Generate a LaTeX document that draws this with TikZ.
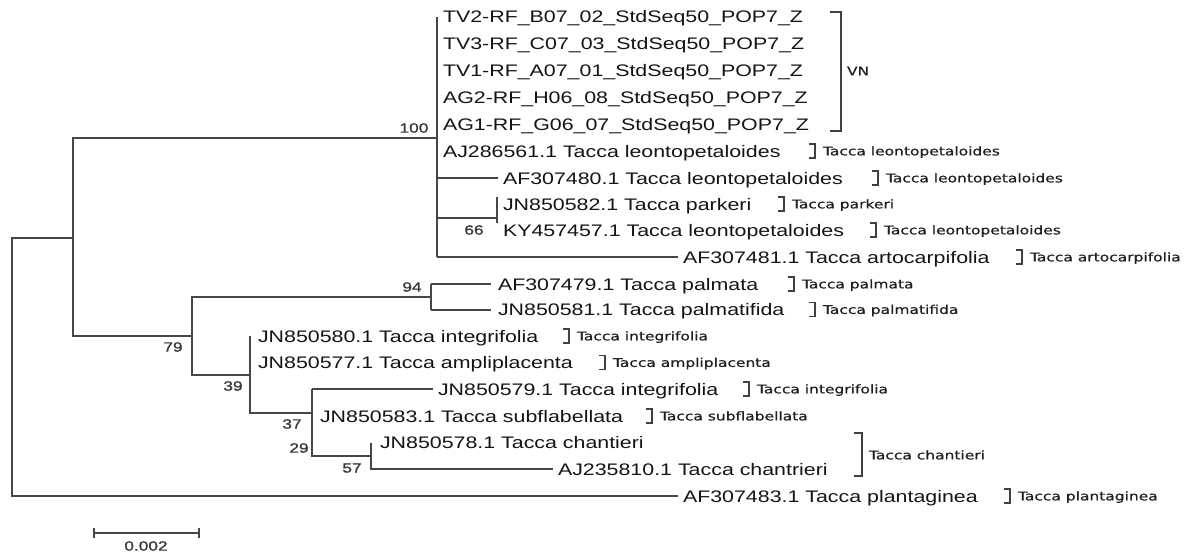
\documentclass[tikz,border=0pt]{standalone}
\usepackage{fontspec}
\newfontfamily\labfam[FakeStretch=1.28]{Liberation Sans}
\newfontfamily\numfam[FakeStretch=1.28,FakeBold=1.2]{Liberation Sans}
\newfontfamily\smfam[FakeStretch=1.29,FakeBold=0.6]{DejaVu Sans}
\newcommand\labfont{\labfam\fontsize{16.7}{20}\selectfont}
\newcommand\smfont{\smfam\fontsize{12}{14}\selectfont}
\newcommand\numfont{\numfam\fontsize{13.5}{16}\selectfont}
\tikzset{
  br/.style={line width=2pt, draw=black!72},
  brk/.style={line width=1.6pt, draw=black!75},
  lab/.style={anchor=west, inner sep=0pt, outer sep=0pt, text height=12pt, text depth=0pt, font=\labfont, text=black!92},
  sml/.style={anchor=west, inner sep=0pt, outer sep=0pt, text height=8.75pt, text depth=0pt, font=\smfont, text=black!88},
  bs/.style={inner sep=0pt, font=\numfont, text=black!78}
}
\newcommand\brak[1]{\draw[brk] ([xshift=-8pt]#1.west) ++(-6,-7) -- ++(6,0) -- ++(0,14) -- ++(-6,0);}
\begin{document}
\begin{tikzpicture}[x=1pt,y=-1pt]
\useasboundingbox (0,0) rectangle (1192,554);
% leaf labels
\node[lab] (t1) at (443,17) {TV2-RF\_B07\_02\_StdSeq50\_POP7\_Z};
\node[lab] (t2) at (443,43.5) {TV3-RF\_C07\_03\_StdSeq50\_POP7\_Z};
\node[lab] (t3) at (443,70) {TV1-RF\_A07\_01\_StdSeq50\_POP7\_Z};
\node[lab] (t4) at (443,97) {AG2-RF\_H06\_08\_StdSeq50\_POP7\_Z};
\node[lab] (t5) at (443,124) {AG1-RF\_G06\_07\_StdSeq50\_POP7\_Z};
\node[lab] (t6) at (443,151) {AJ286561.1 Tacca leontopetaloides};
\node[lab] (t7) at (503,178) {AF307480.1 Tacca leontopetaloides};
\node[lab] (t8) at (503,204) {JN850582.1 Tacca parkeri};
\node[lab] (t9) at (503,230) {KY457457.1 Tacca leontopetaloides};
\node[lab] (t10) at (683,257) {AF307481.1 Tacca artocarpifolia};
\node[lab] (t11) at (498,284) {AF307479.1 Tacca palmata};
\node[lab] (t12) at (498,309.5) {JN850581.1 Tacca palmatifida};
\node[lab] (t13) at (258,336) {JN850580.1 Tacca integrifolia};
\node[lab] (t14) at (258,362.5) {JN850577.1 Tacca ampliplacenta};
\node[lab] (t15) at (438,389) {JN850579.1 Tacca integrifolia};
\node[lab] (t16) at (320,416) {JN850583.1 Tacca subflabellata};
\node[lab] (t17) at (380,442.5) {JN850578.1 Tacca chantieri};
\node[lab] (t18) at (558,469) {AJ235810.1 Tacca chantrieri};
\node[lab] (t19) at (683,496) {AF307483.1 Tacca plantaginea};
% tree nodes
\coordinate (root) at (12,367);
\coordinate (nA) at (73,237.5);
\coordinate (n100) at (437,138);
\coordinate (n66) at (497,218);
\coordinate (n79) at (192,336);
\coordinate (n94) at (431,297);
\coordinate (n39) at (250,375);
\coordinate (n37) at (312,413);
\coordinate (n57) at (371,456);
% branches
\draw[br] (nA) -| (root) |- ([xshift=-5pt]t19.west);
\draw[br] (n100) -| (nA) |- (n79);
\draw[br] (n100 |- t1.west) -- (n100 |- t10.west);
\draw[br] (n100 |- t7.west) -- ([xshift=-5pt]t7.west);
\draw[br] (n100 |- n66) -- (n66);
\draw[br] ([yshift=7pt]n66 |- t8.west) -- ([yshift=7pt]n66 |- t9.west);
\draw[br] (n100 |- t10.west) -- ([xshift=-5pt]t10.west);
\draw[br] (n94) -| (n79) |- (n39);
\draw[br] (n94 |- t11.west) -- (n94 |- t12.west);
\draw[br] (n94 |- t11.west) -- ([xshift=-7pt]t11.west);
\draw[br] (n94 |- t12.west) -- ([xshift=-7pt]t12.west);
\draw[br] (n39 |- t13.west) -- (n39 |- n37) -- (n37);
\draw[br] (n37 |- t15.west) -- (n37 |- n57) -- (n57);
\draw[br] (n37 |- t15.west) -- ([xshift=-5pt]t15.west);
\draw[br] (n57 |- t17.west) -- (n57 |- t18.west) -- ([xshift=-5pt]t18.west);
% bootstrap values
\node[bs] (b100) at (414,128) {100};
\node[bs] (b66) at (474,230) {66};
\node[bs] (b94) at (412,287) {94};
\node[bs] (b79) at (173,347) {79};
\node[bs] (b39) at (233,386) {39};
\node[bs] (b37) at (292,424) {37};
\node[bs] (b29) at (299,448) {29};
\node[bs] (b57) at (352,468) {57};
% species labels
\node[sml] (s6) at (823,151) {Tacca leontopetaloides};
\node[sml] (s7) at (886,178) {Tacca leontopetaloides};
\node[sml] (s8) at (792,204) {Tacca parkeri};
\node[sml] (s9) at (884,230) {Tacca leontopetaloides};
\node[sml] (s10) at (1030,257) {Tacca artocarpifolia};
\node[sml] (s11) at (802,284) {Tacca palmata};
\node[sml] (s12) at (823,309.5) {Tacca palmatifida};
\node[sml] (s13) at (577,336) {Tacca integrifolia};
\node[sml] (s14) at (613,362.5) {Tacca ampliplacenta};
\node[sml] (s15) at (757,389) {Tacca integrifolia};
\node[sml] (s16) at (660,416) {Tacca subflabellata};
\node[sml] (s19) at (1018,496) {Tacca plantaginea};
\foreach \s in {s6,s7,s8,s9,s10,s11,s12,s13,s14,s15,s16,s19} {\brak{\s}}
\node[sml] (sC) at (869,455) {Tacca chantieri};
\draw[brk] ([xshift=-7pt]sC.west) ++(-8,-22) -- ++(8,0) -- ++(0,43) -- ++(-8,0);
\node[sml] (vn) at (847,71) {VN};
\draw[brk] ([xshift=-6pt]vn.west) ++(-11,-59) -- ++(11,0) -- ++(0,119) -- ++(-11,0);
% scale bar
\coordinate (sbL) at (94,533);
\coordinate (sbR) at (199,533);
\draw[br] (sbL) -- (sbR);
\draw[br] (sbL) ++(0,-5) -- ++(0,10);
\draw[br] (sbR) ++(0,-5) -- ++(0,10);
\node[bs] (sbt) at (146,546) {0.002};
\end{tikzpicture}
\end{document}
